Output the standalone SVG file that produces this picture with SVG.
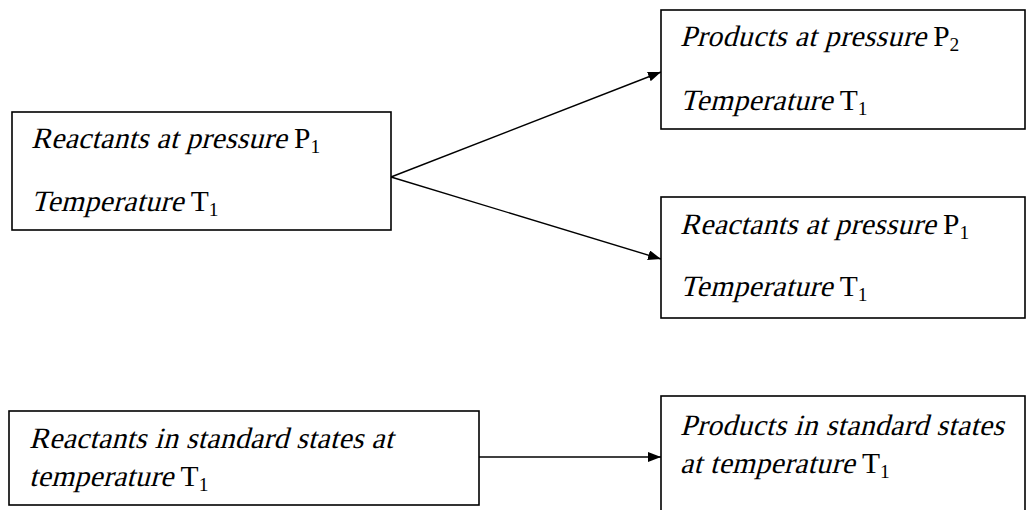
<svg xmlns="http://www.w3.org/2000/svg" width="1028" height="510" viewBox="0 0 1028 510">
  <style>
    .box { fill: #ffffff; stroke: #000000; stroke-width: 1.6; }
    .t { font-family: "Liberation Serif", "Times New Roman", serif; font-size: 29.5px; fill: #000000; }
    .sub { font-size: 19.5px; }
    .conn { stroke: #000000; stroke-width: 1.4; fill: none; marker-end: url(#arrow); }
  </style>
  <defs>
    <marker id="arrow" markerUnits="userSpaceOnUse" markerWidth="14" markerHeight="12" refX="13" refY="5" orient="auto">
      <path d="M0,0 L13,5 L0,10 Z" fill="#000000"/>
    </marker>
  </defs>
  <rect width="1028" height="510" fill="#ffffff"/>

  <g id="connectors">
    <line class="conn" x1="391" y1="177" x2="661" y2="72"/>
    <line class="conn" x1="391" y1="177" x2="661" y2="259"/>
    <line class="conn" x1="479" y1="457" x2="661" y2="457"/>
  </g>

  <g id="node-reactants-p1">
    <rect class="box" x="12" y="112" width="379" height="118"/>
    <text class="t" transform="translate(31,148) skewX(-15)" textLength="255.6" lengthAdjust="spacing">Reactants at pressure</text>
    <text class="t" x="294" y="148">P<tspan class="sub" dy="5">1</tspan></text>
    <text class="t" transform="translate(31,211) skewX(-15)" textLength="152.4" lengthAdjust="spacing">Temperature</text>
    <text class="t" x="190.8" y="211">T<tspan class="sub" dy="5">1</tspan></text>
  </g>

  <g id="node-products-p2">
    <rect class="box" x="661" y="10" width="364" height="119"/>
    <text class="t" transform="translate(680,46) skewX(-15)" textLength="245.8" lengthAdjust="spacing">Products at pressure</text>
    <text class="t" x="933.2" y="46">P<tspan class="sub" dy="5">2</tspan></text>
    <text class="t" transform="translate(680,110) skewX(-15)" textLength="152.4" lengthAdjust="spacing">Temperature</text>
    <text class="t" x="839.8" y="110">T<tspan class="sub" dy="5">1</tspan></text>
  </g>

  <g id="node-reactants-p1-right">
    <rect class="box" x="661" y="197" width="364" height="121"/>
    <text class="t" transform="translate(680,234) skewX(-15)" textLength="255.6" lengthAdjust="spacing">Reactants at pressure</text>
    <text class="t" x="943" y="234">P<tspan class="sub" dy="5">1</tspan></text>
    <text class="t" transform="translate(680,296) skewX(-15)" textLength="152.4" lengthAdjust="spacing">Temperature</text>
    <text class="t" x="839.8" y="296">T<tspan class="sub" dy="5">1</tspan></text>
  </g>

  <g id="node-reactants-standard">
    <rect class="box" x="9" y="411" width="470" height="94"/>
    <text class="t" transform="translate(29,448) skewX(-15)" textLength="363.9" lengthAdjust="spacing">Reactants in standard states at</text>
    <text class="t" transform="translate(29,486) skewX(-15)" textLength="144.2" lengthAdjust="spacing">temperature</text>
    <text class="t" x="180.6" y="486">T<tspan class="sub" dy="5">1</tspan></text>
  </g>

  <g id="node-products-standard">
    <rect class="box" x="661" y="396" width="364" height="130"/>
    <text class="t" transform="translate(680,435) skewX(-15)" textLength="323.7" lengthAdjust="spacing">Products in standard states</text>
    <text class="t" transform="translate(680,473) skewX(-15)" textLength="174.5" lengthAdjust="spacing">at temperature</text>
    <text class="t" x="861.9" y="473">T<tspan class="sub" dy="5">1</tspan></text>
  </g>
</svg>
